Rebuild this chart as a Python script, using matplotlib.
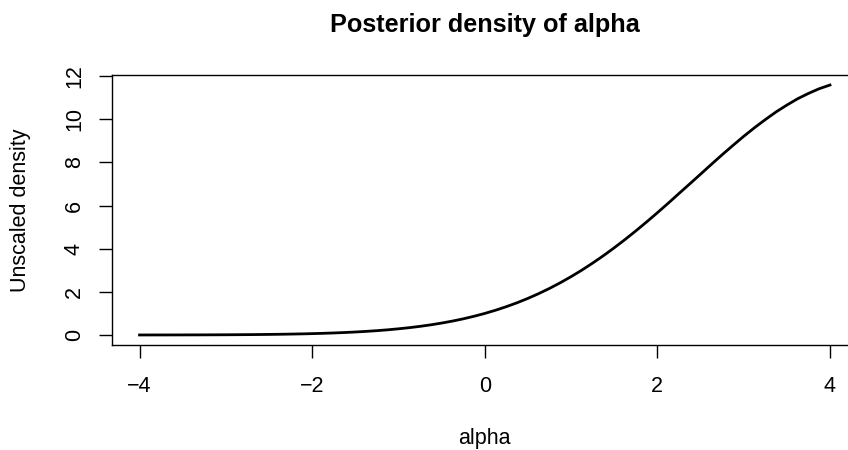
import matplotlib
matplotlib.use('Agg')
import numpy as np
import matplotlib.pyplot as plt

plt.rcParams['font.family'] = ['Liberation Sans', 'DejaVu Sans']

# grid of alpha values, step 0.125
alpha = np.linspace(-4, 4, 65)
# unscaled density at each alpha
density = [0.0015, 0.0019, 0.0025, 0.0032, 0.0041, 0.0053, 0.0068, 0.0086,
           0.0109, 0.0138, 0.0174, 0.0218, 0.0272, 0.0339, 0.042, 0.0518,
           0.0636, 0.0779, 0.0949, 0.1152, 0.139, 0.168, 0.201, 0.2407,
           0.287, 0.3397, 0.401, 0.4717, 0.553, 0.6448, 0.749, 0.8674,
           1.0, 1.148, 1.314, 1.496, 1.698, 1.919, 2.16, 2.422,
           2.705, 3.008, 3.334, 3.678, 4.043, 4.426, 4.826, 5.241,
           5.669, 6.108, 6.56, 7.006, 7.456, 7.909, 8.356, 8.788,
           9.21, 9.61, 9.985, 10.342, 10.66, 10.953, 11.2, 11.419, 11.59]
xticks = [-4, -2, 0, 2, 4]
xticklabels = ['\u22124', '\u22122', '0', '2', '4']
yticks = [0, 2, 4, 6, 8, 10, 12]

fig = plt.figure(figsize=(8.48, 4.5), dpi=100)
# box runs a bit past the right edge, as in the reference
ax = fig.add_axes([111.9 / 848, 105 / 450, 745.7 / 848, 270 / 450])
ax.plot(alpha, density, color='black', linewidth=2.0)

# R style 4% padding
ax.set_xlim(-4.32, 4.32)
ax.set_ylim(-0.4635, 12.055)
ax.set_xticks(xticks)
ax.set_xticklabels(xticklabels)
ax.set_yticks(yticks)

for s in ax.spines.values():
    s.set_linewidth(1.0)
ax.tick_params(length=9.4, width=1.0, labelsize=15.5)
ax.tick_params(axis='x', pad=13)
ax.tick_params(axis='y', pad=10)
for lab in ax.get_yticklabels():
    lab.set_rotation(90)
    lab.set_va('center')

ax.set_xlabel('alpha', fontsize=15.5, va='center')
ax.xaxis.set_label_coords(0.5, -0.348)
ax.set_ylabel('Unscaled density', fontsize=15.5, va='center')
ax.yaxis.set_label_coords((21 - 111.9) / 745.7, 0.5)
ax.text(0.5, (345 - 32.3) / 270, 'Posterior density of alpha', transform=ax.transAxes,
        ha='center', va='baseline', fontsize=18.2, fontweight='bold')

fig.savefig('out.png', dpi=100)
